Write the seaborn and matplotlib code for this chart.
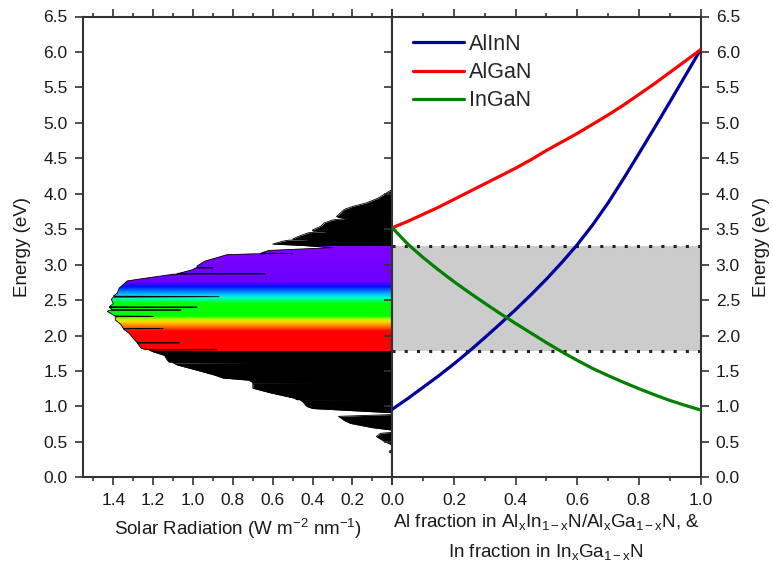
import numpy as np
import pandas as pd
import matplotlib
matplotlib.use("Agg")
import matplotlib.pyplot as plt
import seaborn as sns
from matplotlib.colors import LinearSegmentedColormap
from matplotlib.ticker import MultipleLocator, FormatStrFormatter, FuncFormatter
from matplotlib.lines import Line2D

# ---------------- data ----------------
alloy_names = ["AlInN", "AlGaN", "InGaN"]
fraction = [0.00, 0.05, 0.10, 0.15, 0.20, 0.25, 0.30, 0.35, 0.40, 0.45, 0.50,
            0.55, 0.60, 0.65, 0.70, 0.75, 0.80, 0.85, 0.90, 0.95, 1.00]
E_AlInN = [0.96, 1.11, 1.27, 1.43, 1.60, 1.78, 1.97, 2.165, 2.365, 2.575, 2.795,
           3.03, 3.28, 3.56, 3.87, 4.21, 4.565, 4.925, 5.29, 5.66, 6.03]
E_AlGaN = [3.52, 3.61, 3.71, 3.81, 3.92, 4.03, 4.14, 4.25, 4.36, 4.48, 4.61,
           4.73, 4.85, 4.98, 5.11, 5.25, 5.40, 5.55, 5.71, 5.87, 6.03]
E_InGaN = [3.52, 3.29, 3.10, 2.925, 2.76, 2.605, 2.455, 2.31, 2.17, 2.035, 1.90,
           1.77, 1.65, 1.535, 1.435, 1.34, 1.25, 1.165, 1.085, 1.015, 0.95]

visible_band = [1.78, 3.26]   # eV, grey band / coloured part of the spectrum

# solar spectrum: photon energy (eV) and irradiance (W m^-2 nm^-1)
spec_energy = [4.06, 4.01, 3.94, 3.87, 3.82, 3.78, 3.73, 3.68, 3.665, 3.655, 3.63,
               3.59, 3.54, 3.49, 3.475, 3.465, 3.45, 3.40, 3.36, 3.352, 3.345, 3.33,
               3.29, 3.27, 3.24, 3.20, 3.162, 3.157, 3.152, 3.14, 3.09, 3.05, 2.98,
               2.958, 2.955, 2.952, 2.93, 2.885, 2.875, 2.87, 2.865, 2.84, 2.80, 2.77,
               2.72, 2.67, 2.60, 2.555, 2.548, 2.541, 2.51, 2.45, 2.405, 2.40, 2.395,
               2.38, 2.365, 2.36, 2.355, 2.34, 2.29, 2.275, 2.27, 2.265, 2.22, 2.15,
               2.10, 2.097, 2.094, 2.03, 1.96, 1.90, 1.897, 1.894, 1.82, 1.805,
               1.80, 1.795, 1.77, 1.725, 1.713, 1.708, 1.703, 1.655, 1.625, 1.62,
               1.615, 1.585, 1.51, 1.44, 1.40, 1.37, 1.335, 1.33, 1.325, 1.29, 1.256,
               1.19, 1.115, 1.095, 1.09, 1.085, 1.068, 1.00, 0.97, 0.91, 0.885, 0.86,
               0.80, 0.76, 0.70, 0.665, 0.635, 0.62, 0.575, 0.505, 0.455, 0.39, 0.37,
               0.355, 0.335]
spec_irradiance = [0.00, 0.03, 0.07, 0.13, 0.20, 0.24, 0.26, 0.28, 0.27, 0.22, 0.30,
                   0.34, 0.36, 0.40, 0.40, 0.33, 0.42, 0.47, 0.50, 0.42, 0.52, 0.55,
                   0.60, 0.45, 0.30, 0.62, 0.66, 0.50, 0.70, 0.83, 0.89, 0.94, 0.98,
                   0.98, 0.90, 0.99, 1.00, 1.06, 1.08, 0.64, 1.10, 1.16, 1.26, 1.33,
                   1.35, 1.37, 1.38, 1.40, 0.87, 1.40, 1.41, 1.40, 1.42, 0.98, 1.42,
                   1.41, 1.41, 1.06, 1.42, 1.43, 1.40, 1.39, 1.20, 1.39, 1.39, 1.36,
                   1.35, 1.15, 1.35, 1.32, 1.30, 1.28, 1.07, 1.28, 1.26, 1.24,
                   0.88, 1.22, 1.20, 1.15, 1.14, 0.98, 1.14, 1.13, 1.12, 0.64,
                   1.10, 1.08, 0.98, 0.89, 0.85, 0.72, 0.70, 0.38, 0.70, 0.70, 0.70,
                   0.61, 0.49, 0.48, 0.15, 0.46, 0.45, 0.43, 0.40, 0.00, 0.00, 0.27,
                   0.24, 0.21, 0.10, 0.00, 0.00, 0.06, 0.08, 0.04, 0.00, 0.00, 0.015,
                   0.015, 0.00]

# ---------------- style ----------------
sns.set_style("ticks")
plt.rcParams["font.family"] = ["Liberation Sans", "DejaVu Sans"]
plt.rcParams["mathtext.fontset"] = "custom"
plt.rcParams["mathtext.rm"] = "Liberation Sans"
plt.rcParams["mathtext.it"] = "Liberation Sans"
plt.rcParams["mathtext.default"] = "regular"

TXT = "#1a1a1a"
SPINE = "#333333"
line_colors = {"AlInN": "#00009C", "AlGaN": "#FF0000", "InGaN": "#008000"}

W, H = 773, 568
fig = plt.figure(figsize=(W / 100, H / 100), dpi=100)
x_left, x_mid, x_right = 83.0, 392.3, 700.5
y_top, y_bot = 16.5, 477.3
ax1 = fig.add_axes([x_left / W, 1 - y_bot / H, (x_mid - x_left) / W, (y_bot - y_top) / H])
ax2 = fig.add_axes([x_mid / W, 1 - y_bot / H, (x_right - x_mid) / W, (y_bot - y_top) / H])

# ---------------- left panel: solar spectrum ----------------
poly = ax1.fill_betweenx(spec_energy, 0, spec_irradiance, color="black", lw=0, zorder=1)

rainbow_stops = [(1.78, "#FF0000"), (2.06, "#FF0000"), (2.12, "#FF7000"),
                 (2.19, "#FFD800"), (2.23, "#B0FF00"), (2.27, "#00FF00"),
                 (2.45, "#00FF00"), (2.53, "#00FFC8"), (2.58, "#00C0FF"),
                 (2.64, "#0060FF"), (2.69, "#0010FF"), (2.75, "#6A00FF"),
                 (3.26, "#7F00FF")]
lo, hi = visible_band
cmap = LinearSegmentedColormap.from_list(
    "vis", [((e - lo) / (hi - lo), c) for e, c in rainbow_stops])
grad = np.linspace(0, 1, 800).reshape(-1, 1)
img = ax1.imshow(grad, extent=[0, 1.6, lo, hi], origin="lower", aspect="auto",
                 cmap=cmap, interpolation="bilinear", zorder=2)
img.set_clip_path(poly.get_paths()[0], transform=ax1.transData)

spec_df = pd.DataFrame({"E": spec_energy, "I": spec_irradiance})
sns.lineplot(data=spec_df, x="I", y="E", orient="y", sort=False, estimator=None,
             color="black", lw=0.6, ax=ax1, zorder=3)

ax1.set_xlim(1.552, 0)
ax1.set_ylim(0, 6.5)
ax1.xaxis.set_major_locator(MultipleLocator(0.2))
ax1.xaxis.set_minor_locator(MultipleLocator(0.1))
ax1.xaxis.set_major_formatter(FormatStrFormatter("%.1f"))
ax1.yaxis.set_major_locator(MultipleLocator(0.5))
ax1.yaxis.set_major_formatter(FormatStrFormatter("%.1f"))
ax1.tick_params(axis="both", which="both", direction="out", top=True, right=True,
                labeltop=False, labelright=False, colors=SPINE, labelcolor=TXT,
                labelsize=12.5, width=1.2)
ax1.tick_params(which="major", length=6, pad=5)
ax1.tick_params(which="minor", length=3)
ax1.set_xlabel(r"Solar Radiation (W m$^{-2}$ nm$^{-1}$)", fontsize=13.5, color=TXT,
               labelpad=7)
ax1.set_ylabel("Energy (eV)", fontsize=13.5, color=TXT, labelpad=9)

# ---------------- right panel: band gaps ----------------
ax2.axhspan(lo, hi, color="#CCCCCC", lw=0, zorder=0)
for yv in visible_band:
    ax2.axhline(yv, color="#222222", lw=2.2, linestyle=(0, (1, 3)), zorder=1)

curve_df = pd.DataFrame({
    "x": fraction * 3,
    "E": E_AlInN + E_AlGaN + E_InGaN,
    "alloy": [alloy_names[0]] * len(fraction) + [alloy_names[1]] * len(fraction)
             + [alloy_names[2]] * len(fraction),
})
sns.lineplot(data=curve_df, x="x", y="E", hue="alloy", palette=line_colors,
             estimator=None, sort=False, lw=2.3, legend=False, ax=ax2, zorder=3)

handles = [Line2D([], [], color=line_colors[n], lw=2.3) for n in alloy_names]
ax2.legend(handles, alloy_names, loc="upper left", bbox_to_anchor=(0.068, 0.962),
           frameon=False, fontsize=15.5, handlelength=2.35, handletextpad=0.22,
           labelspacing=0.33, borderpad=0, borderaxespad=0)

ax2.set_xlim(0, 1)
ax2.set_ylim(0, 6.5)
ax2.xaxis.set_major_locator(MultipleLocator(0.2))
ax2.xaxis.set_minor_locator(MultipleLocator(0.1))
ax2.xaxis.set_major_formatter(FuncFormatter(lambda v, p: "" if abs(v) < 1e-9 else f"{v:.1f}"))
ax2.yaxis.set_major_locator(MultipleLocator(0.5))
ax2.yaxis.set_major_formatter(FormatStrFormatter("%.1f"))
ax2.tick_params(axis="both", which="both", direction="out", top=True, right=True,
                left=True, labeltop=False, labelleft=False, labelright=True,
                colors=SPINE, labelcolor=TXT, labelsize=12.5, width=1.2)
ax2.tick_params(which="major", length=6, pad=5)
ax2.tick_params(which="minor", length=3)
ax2.yaxis.set_label_position("right")
ax2.set_ylabel("Energy (eV)", fontsize=13.5, color=TXT, labelpad=9)
ax2.set_xlabel("Al fraction in Al$_x$In$_{1-x}$N/Al$_x$Ga$_{1-x}$N, &\n"
               "In fraction in In$_x$Ga$_{1-x}$N", fontsize=13.5, color=TXT,
               labelpad=3, linespacing=1.7)

for ax in (ax1, ax2):
    for s in ax.spines.values():
        s.set_linewidth(1.5)
        s.set_color(SPINE)
        s.set_visible(True)
    ax.set_facecolor("white")

fig.savefig("out.png", dpi=100, facecolor="white")
